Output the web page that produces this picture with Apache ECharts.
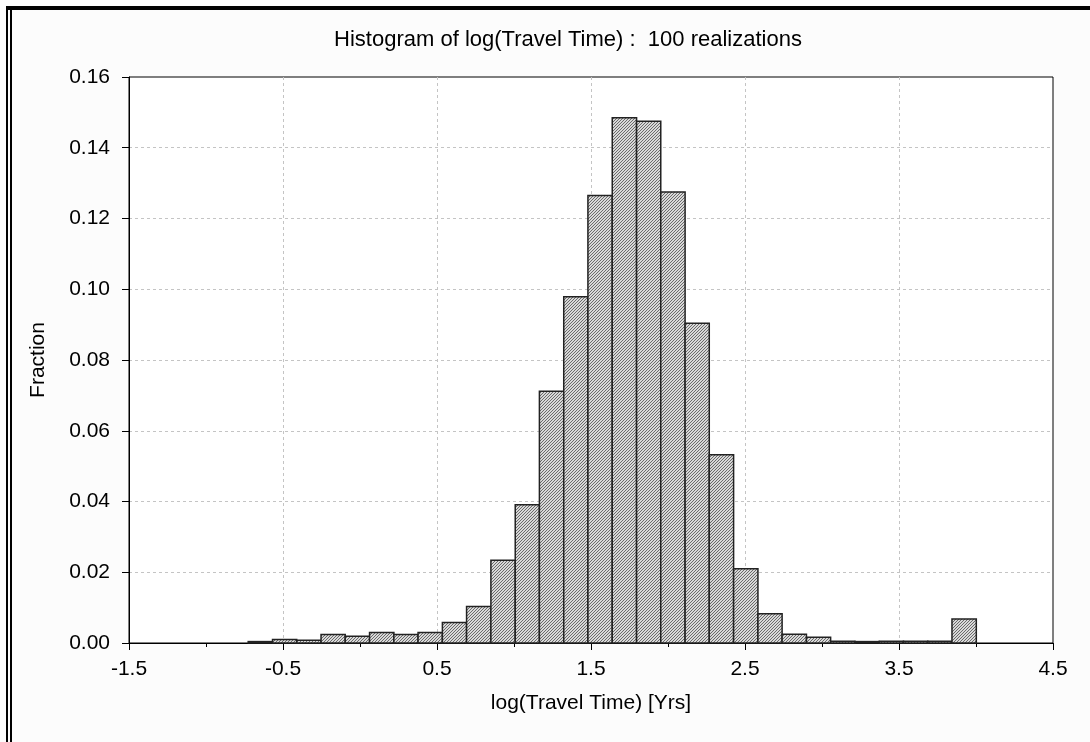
<!DOCTYPE html>
<html>
<head>
<meta charset="utf-8">
<script src="https://cdn.jsdelivr.net/npm/echarts@6/dist/echarts.min.js"></script>
<style>
  html, body { margin: 0; padding: 0; background: #fcfcfc; }
  #chart { width: 1090px; height: 742px; }
</style>
</head>
<body>
<div id="chart"></div>
<script>
// bin edges of the histogram (log10 years)
const binEdges = [-0.726, -0.568, -0.411, -0.253, -0.096, 0.062, 0.220, 0.377, 0.535, 0.692,
  0.850, 1.008, 1.165, 1.323, 1.480, 1.638, 1.796, 1.953, 2.111, 2.268,
  2.426, 2.584, 2.741, 2.899, 3.056, 3.214, 3.372, 3.529, 3.687, 3.844, 4.002];

// fraction in each bin
const fractions = [0.0004, 0.0010, 0.0008, 0.0024, 0.0019, 0.0030, 0.0024, 0.0030, 0.0058, 0.0103,
  0.0234, 0.0391, 0.0712, 0.0979, 0.1265, 0.1485, 0.1475, 0.1275, 0.0904, 0.0532,
  0.0210, 0.0083, 0.0025, 0.0016, 0.0005, 0.0004, 0.0005, 0.0005, 0.0005, 0.0068];

const xTicks = [-1.5, -0.5, 0.5, 1.5, 2.5, 3.5, 4.5];

const bins = fractions.map((f, i) => [binEdges[i], binEdges[i + 1], f]);

// hatch fill like the original
function makeHatch() {
  const n = 3;
  const c = document.createElement('canvas');
  c.width = n; c.height = n;
  const ctx = c.getContext('2d');
  const img = ctx.createImageData(n, n);
  for (let y = 0; y < n; y++) {
    for (let x = 0; x < n; x++) {
      const k = (y * n + x) * 4;
      const dark = (x + y) % n === n - 1;
      const v = dark ? 0x6a : 0xd8;
      img.data[k] = v; img.data[k + 1] = v; img.data[k + 2] = v; img.data[k + 3] = 255;
    }
  }
  ctx.putImageData(img, 0, 0);
  return c;
}
const hatch = { image: makeHatch(), repeat: 'repeat' };

const chart = echarts.init(document.getElementById('chart'), null, { renderer: 'canvas' });

const font = 'Liberation Sans, Arial, sans-serif';

chart.setOption({
  backgroundColor: '#fcfcfc',
  animation: false,
  title: {
    text: 'Histogram of log(Travel Time) :  100 realizations',
    left: 563,
    top: 24,
    textAlign: 'center',
    textStyle: { fontFamily: font, fontSize: 22, fontWeight: 'normal', color: '#000' }
  },
  graphic: [
    { type: 'rect', shape: { x: 6, y: 6, width: 1084, height: 4 }, style: { fill: '#000' } },
    { type: 'rect', shape: { x: 6, y: 6, width: 2, height: 736 }, style: { fill: '#000' } },
    { type: 'rect', shape: { x: 10, y: 10, width: 2, height: 732 }, style: { fill: '#000' } }
  ],
  grid: {
    left: 129, right: 37, top: 77, bottom: 99,
    show: true, backgroundColor: '#fff', borderColor: '#000', borderWidth: 1
  },
  xAxis: {
    type: 'value',
    min: -1.5, max: 4.5, interval: 1,
    name: 'log(Travel Time) [Yrs]',
    nameLocation: 'middle',
    nameGap: 50,
    nameTextStyle: { fontFamily: font, fontSize: 21, color: '#000' },
    axisLine: { onZero: false, lineStyle: { color: '#000', width: 1 } },
    axisTick: { show: true, inside: false, length: 7, lineStyle: { color: '#000' } },
    minorTick: { show: true, splitNumber: 2, length: 4, lineStyle: { color: '#000' } },
    axisLabel: {
      fontFamily: font, fontSize: 21, color: '#000', margin: 16,
      formatter: v => xTicks.find(t => Math.abs(t - v) < 1e-6).toFixed(1)
    },
    splitLine: {
      show: true, showMinLine: false, showMaxLine: false,
      lineStyle: { color: '#c4c4c4', type: [3, 3], width: 1 }
    }
  },
  yAxis: {
    type: 'value',
    min: 0, max: 0.16, interval: 0.02,
    name: 'Fraction',
    nameLocation: 'middle',
    nameGap: 80,
    nameRotate: 90,
    nameTextStyle: { fontFamily: font, fontSize: 21, color: '#000' },
    axisLine: { show: true, onZero: false, lineStyle: { color: '#000', width: 1 } },
    axisTick: { show: true, inside: false, length: 7, lineStyle: { color: '#000' } },
    axisLabel: {
      fontFamily: font, fontSize: 21, color: '#000', margin: 19,
      formatter: v => v.toFixed(2)
    },
    splitLine: {
      show: true, showMinLine: false, showMaxLine: false,
      lineStyle: { color: '#c4c4c4', type: [3, 3], width: 1 }
    }
  },
  series: [{
    type: 'custom',
    data: bins,
    encode: { x: [0, 1], y: 2 },
    renderItem: function (params, api) {
      const p0 = api.coord([api.value(0), api.value(2)]);
      const p1 = api.coord([api.value(1), 0]);
      return {
        type: 'rect',
        shape: { x: p0[0], y: p0[1], width: p1[0] - p0[0], height: p1[1] - p0[1] },
        style: { fill: hatch, stroke: '#222', lineWidth: 1.5 }
      };
    }
  }]
});
</script>
</body>
</html>
